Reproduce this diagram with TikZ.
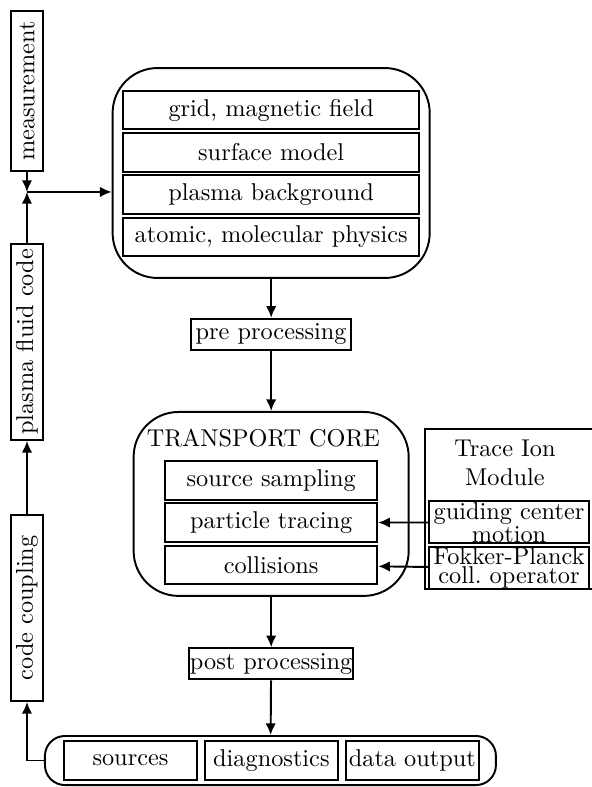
\documentclass[tikz,border=0pt]{standalone}
\usepackage{tikz}
\usetikzlibrary{arrows.meta,positioning}

\begin{document}
\begin{tikzpicture}[->,>={Latex[length=4.8pt,width=4.3pt]},thick,x=1pt,y=-1pt]
  \tikzstyle{vbox}=[rectangle,draw=black,rotate=90,minimum height=13.2pt,inner sep=1pt]
  \tikzstyle{slab}=[rectangle,draw=black,minimum width=121.8pt,minimum height=15.8pt,inner sep=1pt]
  \tikzstyle{coreslab}=[slab,minimum width=87.3pt]
  \tikzstyle{ionslab}=[slab,minimum width=66pt,inner sep=0.3pt,align=center,
                       font=\fontsize{10}{7.6}\selectfont]
  \tikzstyle{outslab}=[slab,minimum width=54.8pt]
  \tikzstyle{step box}=[rectangle,draw=black,minimum width=65.9pt,minimum height=12.8pt,
                        inner xsep=0.2pt,inner ysep=1pt]
  \tikzstyle{frame}=[rectangle,draw=black,rounded corners=18.5pt]

  \useasboundingbox (0,0) rectangle (243.6,323.9);

  % left column
  \node[vbox,minimum width=65.9pt] (meas)     at (11.1,37.4)  {measurement};
  \node[vbox,minimum width=80.7pt] (fluid)    at (11.1,140.7) {plasma fluid code};
  \node[vbox,minimum width=76.6pt] (coupling) at (11.1,250.2) {code coupling};
  \coordinate (join) at (11.1,79.0);

  % input block
  \node[frame,minimum width=130.5pt,minimum height=86.4pt] (setup) at (111.6,71.2) {};
  \node[slab] (grid)    at (111.6,45.3)          {grid, magnetic field};
  \node[slab] (surface) [below=0.8pt of grid]    {surface model};
  \node[slab] (plasma)  [below=0.8pt of surface] {plasma background};
  \node[slab] (atomic)  [below=0.8pt of plasma]  {atomic, molecular physics};

  \node[step box] (pre) at (111.6,137.6) {pre processing};

  % transport core
  \node[frame,minimum width=113.2pt,minimum height=75.7pt] (core) at (111.6,207.4) {};
  \node (title) at (108.4,180.2) {TRANSPORT CORE};
  \node[coreslab] (sampling) at (111.6,197.7)          {source sampling};
  \node[coreslab] (tracing)  [below=0.8pt of sampling] {particle tracing};
  \node[coreslab] (collis)   [below=0.8pt of tracing]  {collisions};

  % trace ion module
  \node[rectangle,draw=black,minimum width=70.2pt,minimum height=65.9pt] (module) at (210,209.5) {};
  \node[align=center] (modtitle) at (207.8,190.6) {Trace Ion\\Module};
  \node[ionslab] (guiding) at (209.5,215.0)        {guiding center\\motion};
  \node[ionslab] (fokker)  [below=0.8pt of guiding] {Fokker-Planck\\coll.\ operator};

  \node[step box] (post) at (111.6,273.2) {post processing};

  % output block
  \node[rectangle,draw=black,rounded corners=8.2pt,minimum width=185.6pt,
        minimum height=20.2pt] (output) at (111.3,313.0) {};
  \node[outslab] (sources) at (53.7,313.0)          {sources};
  \node[outslab] (diag)    [right=2.4pt of sources] {diagnostics};
  \node[outslab] (data)    [right=2.4pt of diag]    {data output};

  \path (meas)     edge (join)
        (fluid)    edge (join)
        (join)     edge (join -| setup.west)
        (setup)    edge (pre)
        (pre)      edge (core)
        (guiding)  edge (tracing)
        (fokker)   edge (collis)
        (core)     edge (post)
        (post)     edge (output)
        (coupling) edge (fluid);
  \draw (output.west) -| (coupling);
\end{tikzpicture}
\end{document}
